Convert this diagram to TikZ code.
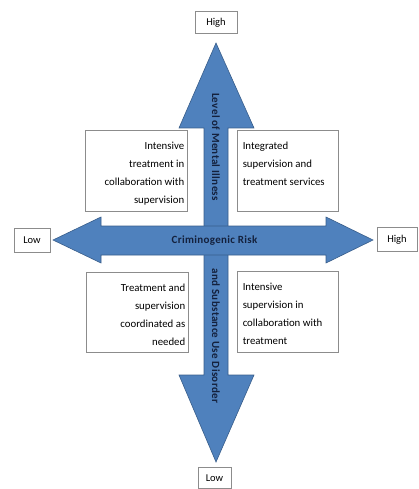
\documentclass[tikz,border=0pt]{standalone}
\usepackage{fontspec}
\setmainfont{Carlito}
\usepackage{tikz}
\usetikzlibrary{positioning,calc}

\definecolor{arrowblue}{HTML}{4F81BD}
\definecolor{arrowedge}{HTML}{385D8A}
\definecolor{axistext}{HTML}{14213D}
\definecolor{boxedge}{HTML}{8C8C8C}

\begin{document}
\begin{tikzpicture}[
    x=1pt, y=-1pt,
    bigarrow/.style={fill=arrowblue, draw=arrowedge, line width=0.6pt, line join=miter},
    axislbl/.style={font=\fontsize{11}{13}\selectfont\bfseries\addfontfeature{LetterSpace=3}, text=axistext, inner sep=0pt},
    endlbl/.style={draw=boxedge, line width=0.5pt, fill=white, font=\fontsize{10.5}{12}\selectfont, inner sep=0pt},
    quad/.style={draw=boxedge, line width=0.5pt, fill=white, anchor=north west, inner sep=0pt, font=\fontsize{10.8}{18.3}\selectfont},
  ]
  \useasboundingbox (0,0) rectangle (418,489);

  % Vertical arrow (mental illness / substance use)
  \draw[bigarrow] (216,43) -- (254,128) -- (228,128) -- (228,375) -- (254,375)
    -- (216,462) -- (179,375) -- (204,375) -- (204,128) -- (179,128) -- cycle;

  % Horizontal arrow (criminogenic risk)
  \draw[bigarrow] (53,240) -- (101,217) -- (101,226) -- (326,226) -- (326,217)
    -- (373,240) -- (326,263) -- (326,255) -- (101,255) -- (101,263) -- cycle;

  % Axis labels
  \node[axislbl, rotate=-90] (mental)    at (216,147) {Level of Mental Illness};
  \node[axislbl, rotate=-90] (substance) at (216,336) {and Substance Use Disorder};
  \node[axislbl]             (risk)      at (214.5,240.5) {Criminogenic Risk};

  % End labels
  \node[endlbl, minimum width=42pt, minimum height=22pt] (mhigh) at (216,22.5)  {High};
  \node[endlbl, minimum width=36pt, minimum height=24pt] (rlow)  at (32,240)    {Low};
  \node[endlbl, minimum width=40pt, minimum height=24pt] (rhigh) at (397,239.5) {High};
  \node[endlbl, minimum width=33pt, minimum height=21pt] (mlow)  at (214.5,478) {Low};

  % Quadrant boxes
  \node[quad, minimum width=102pt, minimum height=81pt] (hilo) at (85,130)
    {\parbox[t][69pt][t]{96pt}{\raggedleft\strut Intensive\\treatment in\\collaboration with\\supervision}};
  \node[quad, minimum width=101pt, minimum height=81pt] (hihi) at (237,130)
    {\hspace*{5pt}\parbox[t][69pt][t]{95pt}{\raggedright\strut Integrated\\supervision and\\treatment services}};
  \node[quad, minimum width=102pt, minimum height=80pt] (lolo) at (86,272)
    {\parbox[t][68pt][t]{96pt}{\raggedleft\strut Treatment and\\supervision\\coordinated as\\needed}};
  \node[quad, minimum width=101pt, minimum height=81pt] (lohi) at (237,271)
    {\hspace*{5pt}\parbox[t][69pt][t]{95pt}{\raggedright\strut Intensive\\supervision in\\collaboration with\\treatment}};
\end{tikzpicture}
\end{document}
